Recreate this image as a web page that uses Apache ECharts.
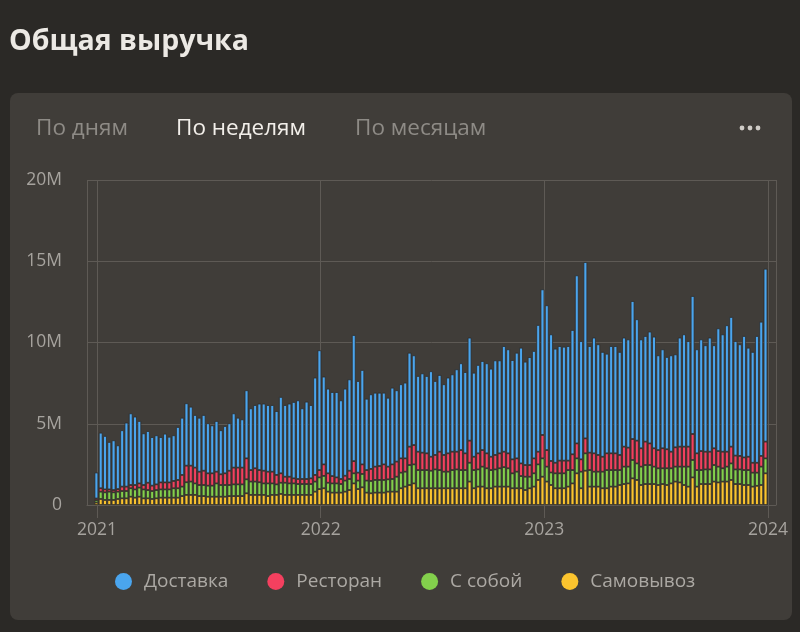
<!DOCTYPE html>
<html><head><meta charset="utf-8">
<script src="https://cdn.jsdelivr.net/npm/echarts@6/dist/echarts.min.js"></script>
<style>html,body{margin:0;padding:0;background:#2b2926;} #c{width:800px;height:632px;}</style>
</head><body><div id="c"></div>
<script>
// Weekly revenue, millions
const titleText = 'Общая выручка';
const tabLabels = ['По дням', 'По неделям', 'По месяцам'];
const seriesNames = ['Доставка', 'Ресторан', 'С собой', 'Самовывоз'];
const yTickLabels = ['0', '5M', '10M', '15M', '20M'];
const firstWeek = [2020, 11, 31];
const weekCount = 157;

const dostavka = [
1.6,3.42,3.29,2.92,3.06,2.69,3.47,3.94,4.41,4.21,
3.84,3.18,3.18,2.99,3.02,2.79,3.0,2.81,2.81,3.26,
3.52,3.84,3.63,3.24,3.32,3.43,3.08,2.95,3.12,2.71,
2.91,2.92,3.34,3.07,2.97,4.19,3.8,3.89,4.09,4.13,
4.1,4.1,3.93,4.7,4.41,4.5,4.7,4.84,4.35,4.76,
4.51,5.99,7.37,5.4,5.21,5.17,5.25,4.84,5.36,5.62,
7.76,5.64,5.81,4.39,4.59,4.55,4.51,4.41,4.24,4.72,
4.39,4.56,4.66,5.78,5.52,4.66,4.88,4.76,5.26,4.55,
4.72,4.35,4.66,4.76,5.07,5.34,5.0,6.34,5.17,5.44,
5.48,5.54,5.42,5.82,5.72,6.5,6.4,6.11,6.5,7.12,
6.36,6.64,6.61,7.8,8.96,8.91,7.79,7.02,7.05,7.01,
7.05,7.65,10.34,7.28,10.85,6.56,7.12,6.81,6.45,6.13,
6.6,6.6,6.34,6.71,6.66,8.49,7.47,6.7,6.5,6.88,
6.87,5.83,6.09,5.68,5.93,5.72,6.71,6.91,6.5,8.49,
6.4,6.87,6.55,7.02,6.34,7.55,7.22,7.78,7.98,7.05,
6.87,7.47,6.71,6.82,7.8,8.26,10.64];

const restoran = [
0.1,0.21,0.18,0.14,0.14,0.16,0.27,0.27,0.2,0.27,
0.26,0.27,0.45,0.33,0.35,0.43,0.43,0.43,0.45,0.51,
0.72,1.02,0.98,0.97,0.82,0.88,0.76,0.76,0.72,0.66,
0.72,0.88,1.03,1.03,1.03,1.29,0.71,0.82,0.75,0.78,
0.72,0.72,0.58,0.58,0.37,0.41,0.31,0.31,0.31,0.31,
0.35,0.41,0.45,0.71,0.58,0.45,0.37,0.31,0.3,0.51,
0.75,0.49,0.59,0.65,0.74,0.82,0.86,0.96,0.78,0.9,
0.93,0.88,0.82,1.13,1.19,1.13,1.07,1.03,0.86,0.89,
1.13,1.03,1.13,1.13,1.09,1.23,1.03,1.36,0.82,0.99,
1.02,0.92,0.82,0.89,0.92,0.95,0.92,0.86,0.82,0.78,
0.72,0.72,0.92,0.78,1.44,1.02,0.71,0.65,0.78,0.78,
0.58,0.97,0.92,0.76,0.92,1.07,1.13,1.03,0.92,1.03,
1.03,1.03,0.93,1.23,1.17,1.29,1.4,1.13,1.44,1.33,
1.13,1.12,1.23,1.17,1.02,1.19,1.23,1.23,1.23,1.6,
1.03,1.17,1.09,1.09,1.03,0.96,1.02,0.92,1.03,0.85,
0.83,0.78,0.82,0.61,0.61,0.66,1.03];

const sSoboy = [
0.15,0.45,0.47,0.51,0.47,0.45,0.45,0.45,0.52,0.51,
0.56,0.55,0.51,0.49,0.51,0.51,0.51,0.51,0.58,0.58,
0.58,0.78,0.82,0.71,0.68,0.68,0.68,0.68,0.82,0.72,
0.72,0.68,0.72,0.72,0.72,0.86,0.82,0.82,0.78,0.71,
0.78,0.71,0.65,0.69,0.75,0.71,0.71,0.67,0.67,0.67,
0.67,0.62,0.72,0.76,0.55,0.57,0.57,0.53,0.68,0.68,
0.62,0.52,0.82,0.74,0.76,0.78,0.78,0.78,0.76,0.78,
0.92,0.96,0.92,1.23,1.17,1.12,1.12,1.12,1.08,1.16,
1.12,1.02,1.02,1.12,1.16,1.12,1.12,1.16,1.12,1.06,
1.23,1.23,1.12,1.06,1.13,1.2,1.13,0.92,1.02,0.75,
0.82,0.71,0.82,0.96,1.13,0.92,0.77,0.92,0.92,0.92,
1.02,0.82,0.92,1.02,1.07,1.02,0.92,0.92,1.02,1.12,
1.02,1.02,0.92,1.07,1.03,1.13,1.02,1.13,1.17,1.17,
1.07,1.03,0.97,1.03,0.93,0.92,0.97,1.13,1.23,1.07,
1.02,0.86,0.9,0.9,1.02,0.97,0.82,0.92,1.02,0.9,
0.9,0.92,0.92,0.86,0.81,1.13,0.92];

const samovyvoz = [
0.15,0.37,0.31,0.31,0.31,0.37,0.41,0.41,0.51,0.45,
0.51,0.41,0.41,0.37,0.41,0.45,0.45,0.45,0.45,0.45,
0.55,0.62,0.62,0.62,0.55,0.55,0.51,0.51,0.51,0.51,
0.51,0.55,0.55,0.55,0.55,0.72,0.62,0.62,0.62,0.62,
0.55,0.62,0.62,0.68,0.62,0.62,0.62,0.62,0.62,0.62,
0.62,0.82,0.98,1.03,0.82,0.76,0.76,0.76,0.82,0.92,
1.33,0.98,1.09,0.76,0.72,0.76,0.76,0.76,0.82,0.82,
0.82,1.03,1.13,1.23,1.33,1.03,1.03,1.03,1.03,1.03,
1.03,1.03,1.03,1.03,1.03,1.03,1.03,1.44,1.03,1.13,
1.13,1.03,1.03,1.13,1.13,1.13,1.13,1.03,1.03,1.03,
0.92,1.03,1.13,1.54,1.74,1.44,1.23,1.03,1.03,1.03,
1.13,1.33,1.95,1.03,2.11,1.13,1.13,1.13,1.03,1.03,
1.13,1.13,1.23,1.29,1.33,1.64,1.54,1.23,1.29,1.29,
1.29,1.23,1.29,1.23,1.33,1.44,1.39,1.23,1.13,1.7,
1.13,1.29,1.29,1.29,1.44,1.39,1.44,1.44,1.54,1.29,
1.29,1.23,1.23,1.13,1.18,1.23,1.95];

const colors = { 'Доставка': '#4aa5ee', 'Ресторан': '#f4405f', 'С собой': '#83d04c', 'Самовывоз': '#fbc42e' };

const weeks = [];
for (let i = 0; i < weekCount; i++) {
  weeks.push(new Date(firstWeek[0], firstWeek[1], firstWeek[2] + 7 * i).getTime());
}
const pair = arr => arr.map((v, i) => [weeks[i], v]);

const stackOrder = [
  ['Самовывоз', samovyvoz],
  ['С собой', sSoboy],
  ['Ресторан', restoran],
  ['Доставка', dostavka]
];

const chart = echarts.init(document.getElementById('c'), null, { renderer: 'canvas' });
const FONT = '"Open Sans", "Noto Sans", sans-serif';
const gridColor = '#5e5a55';
const labelColor = '#a6a39e';

chart.setOption({
  backgroundColor: '#2b2926',
  textStyle: { fontFamily: FONT },
  animation: false,
  graphic: [
    { type: 'rect', z: -10, shape: { x: 10, y: 93, width: 782, height: 527, r: 8 }, style: { fill: '#403d39' } },
    { type: 'text', x: 9, y: 42, style: { text: titleText, font: 'bold 28.5px ' + FONT, fill: '#ece9e4', textVerticalAlign: 'middle' } },
    { type: 'text', x: 36, y: 129, style: { text: tabLabels[0], font: '22.5px ' + FONT, fill: '#8e8b86', textVerticalAlign: 'middle' } },
    { type: 'text', x: 176, y: 129, style: { text: tabLabels[1], font: '22.5px ' + FONT, fill: '#f2efea', textVerticalAlign: 'middle' } },
    { type: 'text', x: 355, y: 129, style: { text: tabLabels[2], font: '22.5px ' + FONT, fill: '#8e8b86', textVerticalAlign: 'middle' } },
    { type: 'circle', shape: { cx: 742, cy: 128, r: 2.4 }, style: { fill: '#cfccc7' } },
    { type: 'circle', shape: { cx: 750, cy: 128, r: 2.4 }, style: { fill: '#cfccc7' } },
    { type: 'circle', shape: { cx: 758, cy: 128, r: 2.4 }, style: { fill: '#cfccc7' } }
  ],
  grid: { left: 87, right: 24, top: 180, bottom: 127, containLabel: false, outerBoundsMode: 'none' },
  legend: {
    data: seriesNames,
    top: 567,
    left: 110,
    icon: 'circle',
    itemWidth: 17,
    itemHeight: 17,
    itemGap: 39,
    itemStyle: { borderWidth: 0 },
    textStyle: { color: '#aca9a4', fontSize: 19, fontFamily: FONT, padding: [0, 0, 0, 7] }
  },
  xAxis: {
    type: 'time',
    min: new Date(2020, 11, 18, 18).getTime(),
    max: new Date(2024, 0, 11).getTime(),
    splitNumber: 3,
    minInterval: 365 * 24 * 3600 * 1000,
    axisLine: { show: true, lineStyle: { color: gridColor } },
    axisTick: { show: true, length: 13, lineStyle: { color: gridColor } },
    splitLine: { show: true, lineStyle: { color: gridColor } },
    axisLabel: { formatter: '{yyyy}', color: labelColor, fontSize: 17.5, margin: 16, fontFamily: FONT }
  },
  yAxis: {
    type: 'value',
    min: 0, max: 20, interval: 5,
    axisLine: { show: false },
    axisTick: { show: false },
    splitLine: { lineStyle: { color: gridColor } },
    axisLabel: { formatter: (v, i) => yTickLabels[i], color: labelColor, fontSize: 17.5, margin: 25, fontFamily: FONT }
  },
  series: stackOrder.map(([name, arr]) => ({
    name, type: 'bar', stack: 'total',
    data: pair(arr),
    barWidth: 3.8,
    itemStyle: { color: colors[name], borderColor: '#2f2c29', borderWidth: 0.8 }
  }))
});
</script></body></html>
